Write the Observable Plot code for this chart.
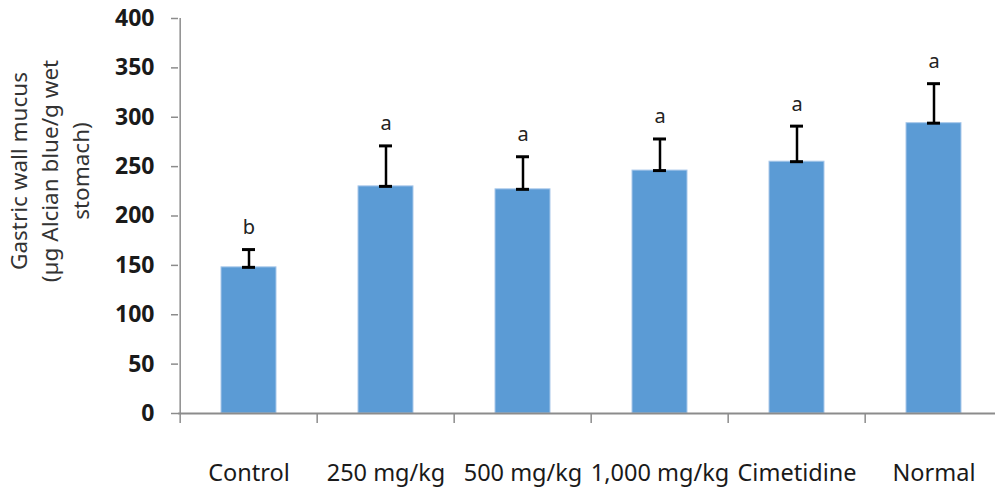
<!DOCTYPE html>
<html>
<head>
<meta charset="utf-8">
<script src="https://cdn.jsdelivr.net/npm/d3@7"></script>
<script src="https://cdn.jsdelivr.net/npm/@observablehq/plot@0.6"></script>
<style>
  html, body { margin: 0; padding: 0; background: #fff; }
  #chart svg { display: block; }
</style>
</head>
<body>
<div id="chart"></div>
<script>
const categories = ["Control", "250 mg/kg", "500 mg/kg", "1,000 mg/kg", "Cimetidine", "Normal"];
const means = [148, 230, 227, 246, 255, 294];
const errors = [18, 41, 33, 32, 36, 40];
const letters = ["b", "a", "a", "a", "a", "a"];
const yTicks = [0, 50, 100, 150, 200, 250, 300, 350, 400];
const yTitle = "Gastric wall mucus\n(µg Alcian blue/g wet\nstomach)";

const data = categories.map((c, i) => ({c, v: means[i], e: errors[i], top: means[i] + errors[i], L: letters[i]}));

const width = 995, height = 490;
const marginLeft = 178, marginRight = -9, marginTop = 18, marginBottom = 77;
const frameHeight = height - marginTop - marginBottom;
const step = (width - marginLeft - marginRight) / categories.length;
const axisColor = "#8c8c8c";
const font = "'Noto Sans', 'Open Sans', sans-serif";

const chart = Plot.plot({
  width, height, marginLeft, marginRight, marginTop, marginBottom,
  style: {fontFamily: font, background: "#fff", overflow: "visible"},
  x: {domain: categories, paddingInner: 0.6, paddingOuter: 0.3, label: null},
  y: {domain: [0, 400], label: null},
  marks: [
    Plot.barY(data, {x: "c", y: "v", fill: "#5b9bd5", stroke: "#a9c8ea", strokeWidth: 1}),
    // x axis line
    Plot.ruleY([0], {stroke: axisColor, strokeWidth: 2}),
    // y axis line (left edge of first category slot)
    Plot.tickX([categories[0]], {x: d => d, dx: -step / 2, y: null, stroke: axisColor, strokeWidth: 1.5}),
    // category boundary ticks below the axis
    Plot.tickX(categories, {x: d => d, dx: -step / 2, y: null, insetTop: frameHeight, insetBottom: -10, stroke: axisColor, strokeWidth: 1.5}),
    // error bars
    Plot.ruleX(data, {x: "c", y1: "v", y2: "top", stroke: "#000", strokeWidth: 2.5}),
    Plot.tickY(data, {x: "c", y: "top", stroke: "#000", strokeWidth: 3, insetLeft: 21, insetRight: 21}),
    Plot.tickY(data, {x: "c", y: "v", stroke: "#000", strokeWidth: 3, insetLeft: 21, insetRight: 21}),
    // significance letters
    Plot.text(data, {x: "c", y: "top", text: "L", dy: -22, fontSize: 20, fill: "#222", fontFamily: font}),
    Plot.axisY({ticks: yTicks, tickSize: 7, tickPadding: 17, stroke: axisColor, strokeWidth: 1.5, fontSize: 23, fontWeight: "bold", fill: "#1a1a1a", label: null}),
    Plot.axisX({tickSize: 0, tickPadding: 51, fontSize: 23.5, fill: "#1a1a1a", label: null}),
    Plot.text([yTitle], {frameAnchor: "left", dx: -130, dy: -45, rotate: -90, fontSize: 22.5, lineHeight: 1.38, fill: "#333", textAnchor: "middle", fontFamily: font})
  ]
});

document.getElementById("chart").appendChild(chart);
</script>
</body>
</html>
